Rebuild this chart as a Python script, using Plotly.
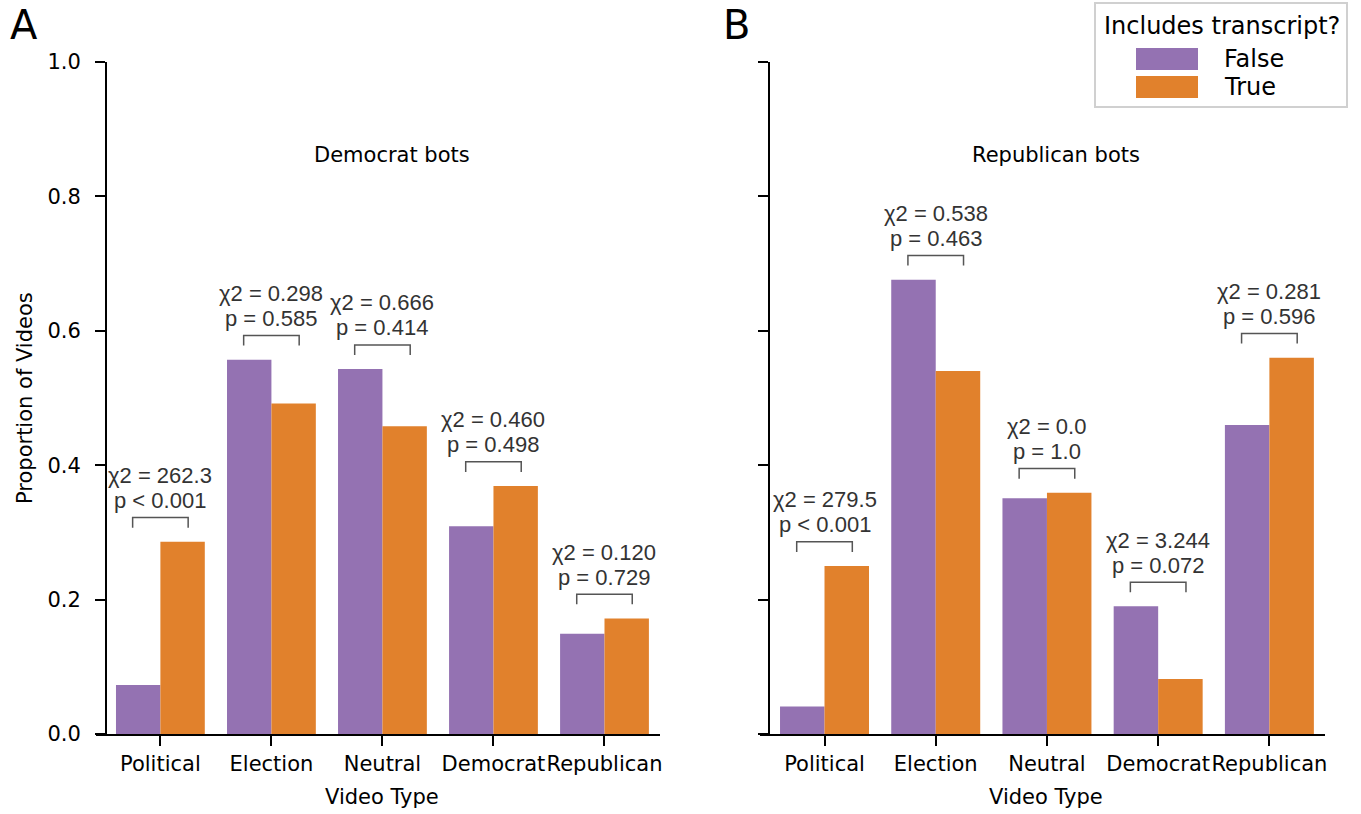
import plotly.graph_objects as go

categories = ["Political", "Election", "Neutral", "Democrat", "Republican"]
dem_false = [0.073, 0.557, 0.543, 0.309, 0.149]
dem_true = [0.286, 0.492, 0.458, 0.369, 0.172]
rep_false = [0.041, 0.676, 0.351, 0.190, 0.460]
rep_true = [0.250, 0.540, 0.359, 0.082, 0.560]
dem_chi = ["262.3", "0.298", "0.666", "0.460", "0.120"]
dem_p = ["< 0.001", "= 0.585", "= 0.414", "= 0.498", "= 0.729"]
rep_chi = ["279.5", "0.538", "0.0", "3.244", "0.281"]
rep_p = ["< 0.001", "= 0.463", "= 1.0", "= 0.072", "= 0.596"]
yticks = [0.0, 0.2, 0.4, 0.6, 0.8, 1.0]

W, H = 1361, 814
PURPLE = "#9472b2"
ORANGE = "#e1812c"
TICKFONT = dict(family="DejaVu Sans", size=21, color="black")
STATFONT = dict(family="Liberation Sans", size=22, color="#333333")


def px(x):
    return x / W


def py(y):
    return 1 - y / H


fig = go.Figure()
panels = [
    ("x", "y", dem_false, dem_true, dem_chi, dem_p),
    ("x2", "y2", rep_false, rep_true, rep_chi, rep_p),
]
for xa, ya, f, t, chi, pv in panels:
    fig.add_trace(go.Bar(x=categories, y=f, xaxis=xa, yaxis=ya, marker_color=PURPLE,
                         marker_line_width=0, name="False", showlegend=False))
    fig.add_trace(go.Bar(x=categories, y=t, xaxis=xa, yaxis=ya, marker_color=ORANGE,
                         marker_line_width=0, name="True", showlegend=False))
    for i in range(len(categories)):
        top = max(f[i], t[i]) + 0.036
        leg = top - 0.015
        fig.add_shape(type="path", xref=xa, yref=ya,
                      path=f"M {i-0.25},{leg} L {i-0.25},{top} L {i+0.25},{top} L {i+0.25},{leg}",
                      line=dict(color="#555555", width=1.5))
        fig.add_annotation(x=i, y=top, xref=xa, yref=ya, showarrow=False,
                           text=f"p {pv[i]}", yanchor="middle", yshift=17, font=STATFONT)
        fig.add_annotation(x=i, y=top, xref=xa, yref=ya, showarrow=False,
                           text=f"χ2 = {chi[i]}", yanchor="middle", yshift=42, font=STATFONT)

ydom = [py(734), py(62)]
common_x = dict(type="category", range=[-0.58, 4.5], showline=True, linecolor="black",
                linewidth=2, ticks="outside", ticklen=10, tickwidth=2, tickcolor="black",
                tickangle=0, tickfont=TICKFONT, showgrid=False, zeroline=False, automargin=False)
common_y = dict(range=[0, 1], domain=ydom, showline=True, linecolor="black", linewidth=2,
                ticks="outside", ticklen=10, tickwidth=2, tickcolor="black",
                tickvals=yticks, tickformat=".1f", tickfont=TICKFONT, showgrid=False,
                zeroline=False, anchor="free", automargin=False)

fig.update_layout(
    template="none",
    width=W, height=H, margin=dict(l=0, r=0, t=0, b=0, pad=0), autosize=False,
    plot_bgcolor="white", paper_bgcolor="white",
    barmode="group", bargap=0.2, bargroupgap=0,
    xaxis=dict(domain=[px(96), px(660)], anchor="y", **common_x),
    xaxis2=dict(domain=[px(760), px(1325)], anchor="y2", **common_x),
    yaxis=dict(position=px(106), ticklabelstandoff=10, **common_y),
    yaxis2=dict(position=px(769), showticklabels=False, **common_y),
)

# subplot titles, axis titles
texts = [
    ("Democrat bots", 392, 155, 21, 0),
    ("Republican bots", 1056, 155, 21, 0),
    ("Video Type", 382, 797, 21, 0),
    ("Video Type", 1046, 797, 21, 0),
    ("Proportion of Videos", 25, 398, 21, -90),
]
for s, x, y, size, ang in texts:
    fig.add_annotation(x=px(x), y=py(y), xref="paper", yref="paper", text=s, showarrow=False,
                       xanchor="center", yanchor="middle", textangle=ang,
                       font=dict(family="DejaVu Sans", size=size, color="black"))

# panel letters
for s, x in [("A", 24), ("B", 737)]:
    fig.add_annotation(x=px(x), y=1, xref="paper", yref="paper", text=s, showarrow=False,
                       xanchor="center", yanchor="top",
                       font=dict(family="DejaVu Sans", size=40, color="black"))

# legend drawn manually
fig.add_shape(type="rect", xref="paper", yref="paper", x0=px(1095), x1=px(1347), y0=py(107), y1=py(3),
              line=dict(color="#d0d0d0", width=2), fillcolor="rgba(255,255,255,0.8)", layer="above")
fig.add_annotation(x=px(1222), y=py(26), xref="paper", yref="paper", text="Includes transcript?",
                   showarrow=False, xanchor="center", yanchor="middle",
                   font=dict(family="DejaVu Sans", size=24, color="black"))
for label, color, y0, y1 in [("False", PURPLE, 48, 70), ("True", ORANGE, 76, 98)]:
    fig.add_shape(type="rect", xref="paper", yref="paper", x0=px(1136), x1=px(1198),
                  y0=py(y1), y1=py(y0), line=dict(width=0), fillcolor=color, layer="above")
    fig.add_annotation(x=px(1222), y=py((y0 + y1) / 2), xref="paper", yref="paper", text=label,
                       showarrow=False, xanchor="left", yanchor="middle",
                       font=dict(family="DejaVu Sans", size=24, color="black"))

fig.write_html("out.html", config={"displayModeBar": False},
               post_script="document.body.style.margin='0';")
